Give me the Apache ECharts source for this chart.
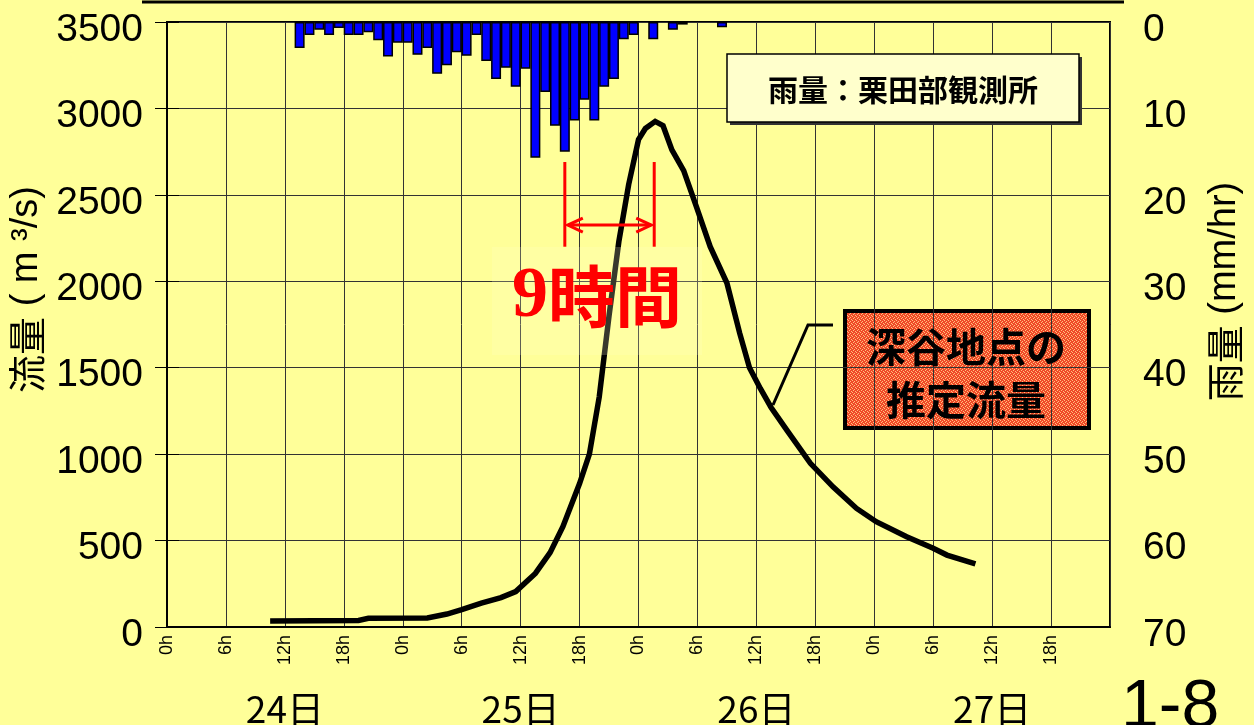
<!DOCTYPE html>
<html><head><meta charset="utf-8">
<script src="https://cdn.jsdelivr.net/npm/echarts@6/dist/echarts.min.js"></script>
<style>html,body{margin:0;padding:0;background:#FFFF99;}#c{width:1254px;height:725px;}</style>
</head><body><div id="c"></div>
<script>
// ---- data (hours counted from 24日 0h) ----
const flowHours  = [10.5, 19.5, 20.5, 26.5, 28.5, 30, 32, 34, 35.5, 37.5, 39, 40.3, 42, 43, 44, 45, 46, 47, 48, 48.7, 49.7, 50.5, 51.4, 52.6, 53.9, 55.3, 57, 58.3, 59.3, 60.4, 61.5, 63.1, 65.5, 67.8, 70.2, 72.2, 75.3, 78, 79.4, 82.3];
const flowValues = [35, 38, 50, 52, 75, 100, 138, 170, 205, 310, 430, 580, 830, 1000, 1330, 1800, 2230, 2560, 2820, 2884, 2925, 2900, 2760, 2640, 2430, 2200, 1990, 1700, 1500, 1380, 1270, 1139, 947, 811, 686, 609, 522, 455, 416, 365];
const rainHours  = [13.5,14.5,15.5,16.5,17.5,18.5,19.5,20.5,21.5,22.5,23.5,24.5,25.5,26.5,27.5,28.5,29.5,30.5,31.5,32.5,33.5,34.5,35.5,36.5,37.5,38.5,39.5,40.5,41.5,42.5,43.5,44.5,45.5,46.5,47.5,49.5,51.5,52.5,56.5];
const rainValues = [3.0,1.5,0.9,1.5,0.7,1.5,1.5,1.2,2.1,4.0,2.4,2.4,3.8,3.0,6.0,5.0,3.5,3.9,1.5,4.5,6.6,5.3,7.5,5.4,15.7,8.1,12.0,15.0,11.4,9.0,11.4,7.5,6.6,2.0,1.5,2.0,0.9,0.3,0.6];
const hourTickLabels = ['0h', '6h', '12h', '18h'];
const dayCenters = [12, 36, 60, 84];
const dayLabels = ['24日', '25日', '26日', '27日'];
const lagStartHour = 40.5, lagEndHour = 49.6;           // rain peak -> flow peak
const lagTopFlow = 2690, lagBottomFlow = 2200, lagArrowFlow = 2325;

const CJK = "'Noto Sans CJK JP', sans-serif";
const LAT = "'Liberation Sans', Arial, sans-serif";

const chart = echarts.init(document.getElementById('c'), null, {renderer: 'canvas'});
const option = {
  backgroundColor: '#FFFF99',
  animation: false,
  grid: {left: 167, right: 144, top: 22, bottom: 98, containLabel: false, outerBoundsMode: 'none',
         show: true, borderColor: '#000', borderWidth: 2, backgroundColor: 'transparent'},
  xAxis: [{
    type: 'value', min: 0, max: 96, interval: 6, position: 'bottom',
    axisLine: {show: true, lineStyle: {color: '#000', width: 2}},
    axisTick: {show: false},
    splitLine: {show: true, lineStyle: {color: '#333', width: 1}},
    axisLabel: {rotate: 90, margin: 8, fontSize: 18, color: '#000', fontFamily: LAT, showMaxLabel: false,
      formatter: v => v >= 96 ? '' : hourTickLabels[(v % 24) / 6]}
  }, {
    type: 'value', min: 0, max: 96, position: 'bottom', offset: 0,
    axisLine: {show: false}, axisTick: {show: false}, splitLine: {show: false},
    axisLabel: {customValues: dayCenters, margin: 63, fontSize: 37, color: '#000', fontFamily: CJK,
      formatter: v => dayLabels[dayCenters.indexOf(v)] || ''}
  }],
  yAxis: [{
    type: 'value', min: 0, max: 3500, interval: 500, position: 'left',
    axisLine: {show: true, lineStyle: {color: '#000', width: 2}},
    axisTick: {show: true, inside: true, length: 12, lineStyle: {color: '#000'}},
    splitLine: {show: true, lineStyle: {color: '#333', width: 1}},
    axisLabel: {fontSize: 39, margin: 24, color: '#000', fontFamily: LAT, verticalAlign: 'top', lineHeight: 16, formatter: v => String(v)},
    name: '{c|流量}{l| ( m ³/s)}', nameLocation: 'middle', nameRotate: 90, nameGap: 117,
    nameTextStyle: {padding: [0, 0, 0, 70],
      rich: {c: {fontSize: 38, fontFamily: CJK, color: '#000'}, l: {fontSize: 38, fontFamily: LAT, color: '#000'}}}
  }, {
    type: 'value', min: 0, max: 70, interval: 10, inverse: true, position: 'right',
    axisLine: {show: true, lineStyle: {color: '#000', width: 2}},
    axisTick: {show: true, inside: true, length: 12, lineStyle: {color: '#000'}},
    splitLine: {show: false},
    axisLabel: {fontSize: 39, margin: 33, color: '#000', fontFamily: LAT, verticalAlign: 'top', lineHeight: 16, formatter: v => String(v)},
    name: '{c|雨量}{l| (mm/hr)}', nameLocation: 'middle', nameRotate: 90, nameGap: 96,
    nameTextStyle: {padding: [0, 0, 0, 66],
      rich: {c: {fontSize: 38, fontFamily: CJK, color: '#000'}, l: {fontSize: 38, fontFamily: LAT, color: '#000'}}}
  }],
  series: [{
    type: 'bar', xAxisIndex: 0, yAxisIndex: 1, barWidth: 10,
    data: rainHours.map((h, i) => [h, rainValues[i]]),
    itemStyle: {color: '#0000FF', borderColor: '#000', borderWidth: 1.5}
  }, {
    type: 'line', xAxisIndex: 0, yAxisIndex: 0, showSymbol: false, symbol: 'none', z: 5,
    data: flowHours.map((h, i) => [h, flowValues[i]]),
    lineStyle: {color: '#000', width: 5.5, cap: 'butt', join: 'miter'}
  }]
};
chart.setOption(option);

// textured fill for the flow label box
const pc = document.createElement('canvas'); pc.width = 4; pc.height = 4;
const g = pc.getContext('2d');
g.fillStyle = '#F04A28'; g.fillRect(0, 0, 4, 4);
g.fillStyle = '#FFC080';
[[0,0],[2,1],[1,2],[3,3]].forEach(p => g.fillRect(p[0], p[1], 1, 1));

const px = h => chart.convertToPixel({xAxisIndex: 0}, h);
const py = v => chart.convertToPixel({yAxisIndex: 0}, v);
const x1 = px(lagStartHour), x2 = px(lagEndHour);
const yT = py(lagTopFlow), yB = py(lagBottomFlow), yA = py(lagArrowFlow);
const red = '#FF0000';

chart.setOption({graphic: [
  // top rule
  {type: 'line', shape: {x1: 142, y1: 2, x2: 1124, y2: 2}, style: {stroke: '#000', lineWidth: 3}, z: 10},
  // rain station legend
  {type: 'rect', shape: {x: 730, y: 57, width: 352, height: 68}, style: {fill: '#333'}, z: 10},
  {type: 'rect', shape: {x: 727, y: 54, width: 352, height: 68}, style: {fill: '#FFFFCC', stroke: '#000', lineWidth: 1.5}, z: 11},
  {type: 'text', x: 903, y: 90, style: {text: '雨量：栗田部観測所', font: "bold 30px 'Noto Sans CJK JP'", fill: '#000', align: 'center', verticalAlign: 'middle'}, z: 12},
  // flow label box (under gridlines)
  {type: 'rect', shape: {x: 845, y: 311, width: 244, height: 117}, style: {fill: {image: pc, repeat: 'repeat'}, stroke: '#000', lineWidth: 4}, z: -1},
  {type: 'text', x: 966, y: 347, style: {text: '深谷地点の', font: "bold 40px 'Noto Sans CJK JP'", fill: '#000', align: 'center', verticalAlign: 'middle'}, z: 12},
  {type: 'text', x: 966, y: 400, style: {text: '推定流量', font: "bold 40px 'Noto Sans CJK JP'", fill: '#000', align: 'center', verticalAlign: 'middle'}, z: 12},
  {type: 'polyline', shape: {points: [[833, 325], [808, 325], [773, 405]]}, style: {stroke: '#000', lineWidth: 3, fill: null}, z: 10},
  // lag annotation
  {type: 'line', shape: {x1: x1, y1: yT, x2: x1, y2: yB}, style: {stroke: red, lineWidth: 3}, z: 10},
  {type: 'line', shape: {x1: x2, y1: yT, x2: x2, y2: yB}, style: {stroke: red, lineWidth: 3}, z: 10},
  {type: 'line', shape: {x1: x1 + 3, y1: yA, x2: x2 - 3, y2: yA}, style: {stroke: red, lineWidth: 3}, z: 10},
  {type: 'polyline', shape: {points: [[x1 + 18, yA - 7], [x1 + 3, yA], [x1 + 18, yA + 7]]}, style: {stroke: red, lineWidth: 3, fill: null}, z: 10},
  {type: 'polyline', shape: {points: [[x2 - 18, yA - 7], [x2 - 3, yA], [x2 - 18, yA + 7]]}, style: {stroke: red, lineWidth: 3, fill: null}, z: 10},
  {type: 'rect', shape: {x: 492, y: 247, width: 210, height: 108}, style: {fill: 'rgba(255,255,200,0.22)'}, z: 9},
  {type: 'text', x: 597, y: 297, style: {
    text: '{n|9}{k|時間}', align: 'center', verticalAlign: 'middle',
    rich: {n: {fontSize: 72, fontFamily: "'Liberation Serif', serif", fontWeight: 'bold', fill: red},
           k: {fontSize: 67, fontFamily: "'Noto Sans CJK JP'", fontWeight: 'bold', fill: red}}
  }, z: 12},
  // page number
  {type: 'text', x: 1121, y: 708, style: {text: '1-8', font: "68px 'Liberation Sans'", fill: '#000', align: 'left', verticalAlign: 'middle'}, z: 12}
]});
</script></body></html>
